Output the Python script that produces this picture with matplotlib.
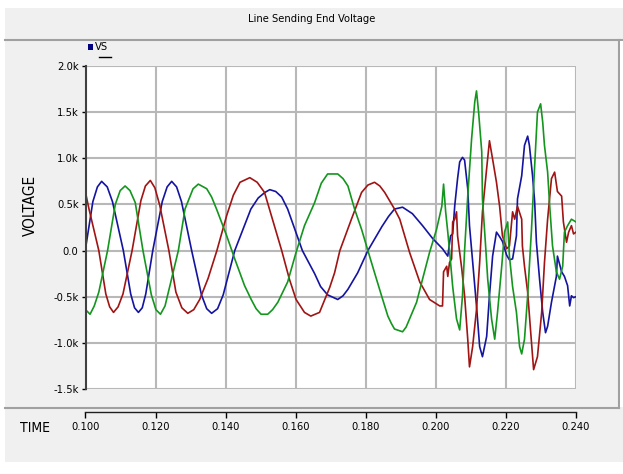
import matplotlib
matplotlib.use("Agg")
import numpy as np
import matplotlib.pyplot as plt
from matplotlib.patches import Rectangle
from matplotlib.lines import Line2D
from matplotlib.ticker import FormatStrFormatter

plt.rcParams['font.family'] = ['Liberation Sans Narrow', 'DejaVu Sans']
plt.rcParams['font.stretch'] = 'condensed'

# -------------------------------------------
# Data (time in ms, voltage in kV)
# -------------------------------------------
t_blue = [100.0, 102.1, 103.4, 104.6, 106.2, 107.7, 110.8, 112.9, 114.0, 115.1,
          116.2, 117.2, 119.2, 121.9, 123.3, 124.6, 126.0, 127.4, 130.3, 133.1,
          134.6, 136.0, 137.7, 139.3, 142.6, 147.2, 149.3, 151.2, 152.6, 154.3,
          156.0, 157.7, 161.9, 165.4, 167.1, 169.1, 172.0, 173.5, 174.9, 177.7,
          180.6, 184.6, 186.5, 188.2, 190.5, 193.3, 196.2, 199.1, 201.9, 203.4,
          204.2, 204.8, 205.4, 206.2, 206.8, 207.6, 208.2, 209.1, 209.6, 210.5,
          211.6, 212.5, 213.3, 214.5, 215.3, 216.2, 217.3, 218.2, 219.0, 220.2,
          221.0, 221.9, 223.0, 223.3, 224.5, 225.3, 226.2, 226.7, 227.6, 228.2,
          228.7, 229.6, 230.5, 231.3, 231.9, 233.0, 233.9, 234.4, 234.7, 235.9,
          236.7, 237.6, 238.2, 238.7, 239.3, 240.0]
v_blue = [0.02, 0.53, 0.69, 0.75, 0.69, 0.53, 0.00, -0.47, -0.62, -0.67,
          -0.62, -0.47, 0.00, 0.53, 0.69, 0.75, 0.69, 0.53, 0.00, -0.48,
          -0.63, -0.68, -0.63, -0.48, 0.00, 0.45, 0.57, 0.63, 0.66, 0.64,
          0.58, 0.45, 0.00, -0.25, -0.39, -0.48, -0.53, -0.49, -0.42, -0.24,
          0.00, 0.26, 0.37, 0.45, 0.47, 0.40, 0.27, 0.13, 0.02, -0.06,
          0.16, 0.18, 0.49, 0.78, 0.96, 1.01, 0.98, 0.67, 0.27, -0.12,
          -0.60, -1.04, -1.15, -0.93, -0.49, -0.06, 0.20, 0.15, 0.10, -0.05,
          -0.10, -0.09, 0.16, 0.56, 0.81, 1.14, 1.24, 1.14, 0.81, 0.53,
          0.09, -0.31, -0.67, -0.89, -0.82, -0.56, -0.38, -0.28, -0.06, -0.23,
          -0.28, -0.38, -0.60, -0.49, -0.51, -0.50]

t_red = [100.0, 101.0, 103.8, 105.8, 106.9, 108.0, 109.3, 110.7, 113.3, 115.8,
         117.1, 118.5, 119.8, 121.2, 123.8, 125.8, 127.5, 129.2, 130.9, 132.6,
         135.0, 137.5, 140.3, 142.2, 144.1, 146.9, 149.0, 151.1, 153.9, 156.0,
         158.2, 160.1, 162.5, 164.3, 166.8, 168.3, 169.7, 171.1, 172.6, 175.9,
         178.8, 180.6, 182.5, 184.0, 185.4, 188.2, 189.7, 192.5, 195.4, 198.2,
         201.1, 201.9, 202.2, 203.1, 203.4, 203.9, 204.5, 204.8, 205.4, 205.9,
         206.2, 207.4, 208.2, 209.1, 209.6, 210.5, 211.6, 212.5, 213.3, 214.5,
         215.3, 216.2, 217.3, 218.2, 219.0, 220.2, 221.0, 221.9, 222.5, 223.3,
         224.5, 224.7, 225.3, 226.2, 227.0, 227.9, 229.0, 230.2, 231.0, 231.9,
         233.0, 233.9, 234.7, 235.9, 236.4, 237.3, 237.9, 238.7, 239.3, 240.0]
v_red = [0.63, 0.45, 0.00, -0.47, -0.61, -0.67, -0.61, -0.47, 0.00, 0.54,
         0.70, 0.76, 0.68, 0.49, 0.00, -0.45, -0.62, -0.68, -0.64, -0.53,
         -0.30, 0.00, 0.38, 0.60, 0.74, 0.79, 0.74, 0.63, 0.27, 0.00,
         -0.31, -0.53, -0.67, -0.71, -0.67, -0.53, -0.40, -0.24, 0.00, 0.34,
         0.63, 0.71, 0.74, 0.70, 0.63, 0.45, 0.34, -0.02, -0.34, -0.53,
         -0.60, -0.60, -0.23, -0.17, -0.28, -0.13, -0.09, 0.31, 0.34, 0.42,
         0.16, -0.20, -0.49, -0.96, -1.26, -1.04, -0.64, -0.13, 0.42, 0.89,
         1.19, 0.99, 0.74, 0.48, 0.16, 0.02, 0.05, 0.42, 0.34, 0.48,
         0.34, 0.05, -0.17, -0.45, -0.85, -1.29, -1.15, -0.67, -0.13, 0.34,
         0.78, 0.85, 0.64, 0.59, 0.31, 0.09, 0.20, 0.27, 0.18, 0.20]

t_green = [100.0, 101.3, 102.5, 103.8, 106.3, 108.5, 109.9, 111.3, 112.7, 114.2,
           116.4, 118.8, 120.1, 121.4, 122.7, 124.1, 126.5, 128.4, 130.7, 132.2,
           134.6, 136.0, 137.4, 140.3, 142.6, 145.4, 147.3, 148.7, 150.1, 152.0,
           153.4, 154.9, 157.7, 160.1, 162.5, 165.4, 167.3, 169.1, 172.0, 173.5,
           174.9, 176.8, 178.8, 180.6, 182.5, 184.5, 186.3, 187.3, 188.2, 190.5,
           191.5, 192.5, 194.5, 196.2, 198.2, 200.2, 201.7, 202.2, 202.8, 203.4,
           203.9, 204.8, 205.9, 206.8, 207.6, 208.2, 209.1, 210.2, 211.1, 211.6,
           212.2, 213.1, 213.3, 214.2, 214.8, 215.9, 216.8, 217.6, 218.8, 219.6,
           220.5, 221.0, 221.9, 223.0, 223.9, 224.5, 225.3, 226.2, 227.3, 228.2,
           229.0, 229.9, 230.5, 231.0, 231.9, 232.5, 233.3, 234.4, 235.3, 236.2,
           236.7, 237.6, 238.7, 240.0]
v_green = [-0.64, -0.69, -0.60, -0.45, 0.00, 0.50, 0.65, 0.70, 0.65, 0.52,
           0.00, -0.48, -0.64, -0.69, -0.60, -0.38, 0.00, 0.45, 0.67, 0.72,
           0.67, 0.58, 0.45, 0.16, -0.09, -0.38, -0.53, -0.63, -0.69, -0.69,
           -0.64, -0.56, -0.34, -0.02, 0.27, 0.52, 0.73, 0.83, 0.83, 0.78,
           0.70, 0.45, 0.23, 0.00, -0.24, -0.49, -0.71, -0.79, -0.85, -0.88,
           -0.83, -0.74, -0.56, -0.31, -0.02, 0.23, 0.48, 0.72, 0.42, 0.20,
           0.00, -0.39, -0.74, -0.86, -0.49, 0.00, 0.59, 1.21, 1.61, 1.73,
           1.50, 1.07, 0.56, 0.05, -0.31, -0.74, -0.96, -0.67, -0.17, 0.20,
           0.31, -0.06, -0.39, -0.67, -1.04, -1.12, -0.96, -0.49, 0.23, 0.92,
           1.50, 1.59, 1.39, 1.14, 0.85, 0.48, 0.05, -0.23, -0.31, -0.17,
           0.20, 0.27, 0.34, 0.31]

x_ticks = [0.100, 0.120, 0.140, 0.160, 0.180, 0.200, 0.220, 0.240]
y_ticks = [-1.5, -1.0, -0.5, 0.0, 0.5, 1.0, 1.5, 2.0]
y_tick_labels = ["-1.5k", "-1.0k", "-0.5k", "0.0", "0.5k", "1.0k", "1.5k", "2.0k"]

# -------------------------------------------
# Figure layout (pixel helpers)
# -------------------------------------------
W, H = 623, 474

def fx(x):
    return x / W

def fy(y):
    return 1 - y / H

fig = plt.figure(figsize=(W / 100, H / 100), dpi=100, facecolor="white")

panel_gray = "#f0f0f0"
edge_gray = "#a0a0a0"

fig.patches.append(Rectangle((fx(5), fy(462)), (623 - 5) / W, (462 - 8) / H,
                             transform=fig.transFigure, facecolor=panel_gray,
                             edgecolor="none", zorder=-2))
fig.patches.append(Rectangle((fx(620), fy(407)), 3 / W, (407 - 41) / H,
                             transform=fig.transFigure, facecolor="white",
                             edgecolor="none", zorder=-1))
for xs, ys in [([5, 623], [40, 40]), ([619, 619], [40, 408]), ([5, 619], [408, 408])]:
    fig.add_artist(Line2D([fx(v) for v in xs], [fy(v) for v in ys],
                          transform=fig.transFigure, color=edge_gray, lw=1.5, zorder=-1))

# -------------------------------------------
# Plot area
# -------------------------------------------
ax = fig.add_axes([fx(85.5), fy(389), (576 - 85.5) / W, (389 - 66) / H])
ax.set_facecolor("white")

line_kw = dict(lw=1.2, solid_joinstyle="round")
ax.plot(np.array(t_blue) / 1000, v_blue, color="#1414a0", **line_kw)
ax.plot(np.array(t_red) / 1000, v_red, color="#a01414", **line_kw)
ax.plot(np.array(t_green) / 1000, v_green, color="#14961e", **line_kw)

ax.set_xlim(0.100, 0.240)
ax.set_ylim(-1.5, 2.0)
ax.set_xticks(x_ticks)
ax.set_yticks(y_ticks)
ax.set_yticklabels(y_tick_labels)
ax.xaxis.set_major_formatter(FormatStrFormatter("%.3f"))

ax.grid(True, color="#b8b8b8", lw=1.5)
ax.set_axisbelow(True)

ax.spines["top"].set_visible(False)
ax.spines["right"].set_visible(False)
ax.spines["left"].set_color("#404040")
ax.spines["left"].set_linewidth(1.5)
ax.spines["bottom"].set_position(("outward", 16.5))
ax.spines["bottom"].set_color("#202020")
ax.spines["bottom"].set_linewidth(1.0)

ax.tick_params(axis="x", direction="out", length=4, width=1, labelsize=8, pad=3)
ax.tick_params(axis="y", direction="out", length=3, width=1, labelsize=8, pad=2)

# -------------------------------------------
# Texts and legend
# -------------------------------------------
fig.text(fx(312), fy(19), "Line Sending End Voltage", fontsize=8, ha="center", va="center")
fig.text(fx(30), fy(205), "VOLTAGE", fontsize=11, rotation=90, ha="center", va="center")
fig.text(fx(35), fy(428), "TIME", fontsize=10, ha="center", va="center")

fig.patches.append(Rectangle((fx(88), fy(50)), 5 / W, 6 / H, transform=fig.transFigure,
                             facecolor="#000080", edgecolor="none"))
fig.text(fx(95), fy(47), "VS", fontsize=8, ha="left", va="center")
fig.add_artist(Line2D([fx(99), fx(111)], [fy(57), fy(57)], transform=fig.transFigure,
                      color="black", lw=1))

fig.savefig("out.png", dpi=100, facecolor=fig.get_facecolor())
